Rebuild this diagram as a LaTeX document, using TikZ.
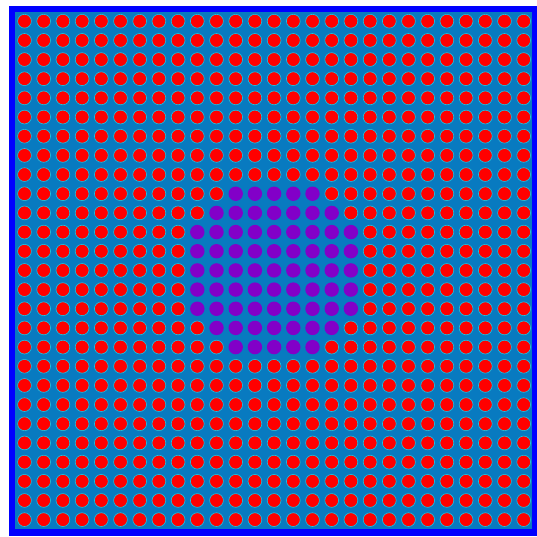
\documentclass[tikz,border=0pt]{standalone}
\definecolor{framec}{RGB}{0,0,255}
\definecolor{bgc}{RGB}{8,122,192}
\definecolor{redc}{RGB}{255,0,0}
\definecolor{purc}{RGB}{130,0,200}
\definecolor{ringc}{RGB}{20,200,230}
\begin{document}
\begin{tikzpicture}[x=1pt,y=-1pt,
  redpin/.style={fill=redc,draw=ringc,line width=0.6pt},
  purplepin/.style={fill=purc}]
\useasboundingbox (0,0) rectangle (537,536);
\fill[white] (0,0) rectangle (537,536);
\fill[framec] (9,6) rectangle (537,536);
\fill[bgc] (15,12.3) rectangle (532,529.3);
\foreach \i in {0,...,26}{
  \foreach \j in {0,...,26}{
    \pgfmathtruncatemacro\dd{(\i-13)*(\i-13)+(\j-13)*(\j-13)}
    \ifnum\dd<21
      \fill[purplepin] (24.5+19.2*\i, 21.2+19.17*\j) circle (7.2);
    \else
      \filldraw[redpin] (24.5+19.2*\i, 21.2+19.17*\j) circle (6.9);
    \fi
  }
}
\end{tikzpicture}
\end{document}
